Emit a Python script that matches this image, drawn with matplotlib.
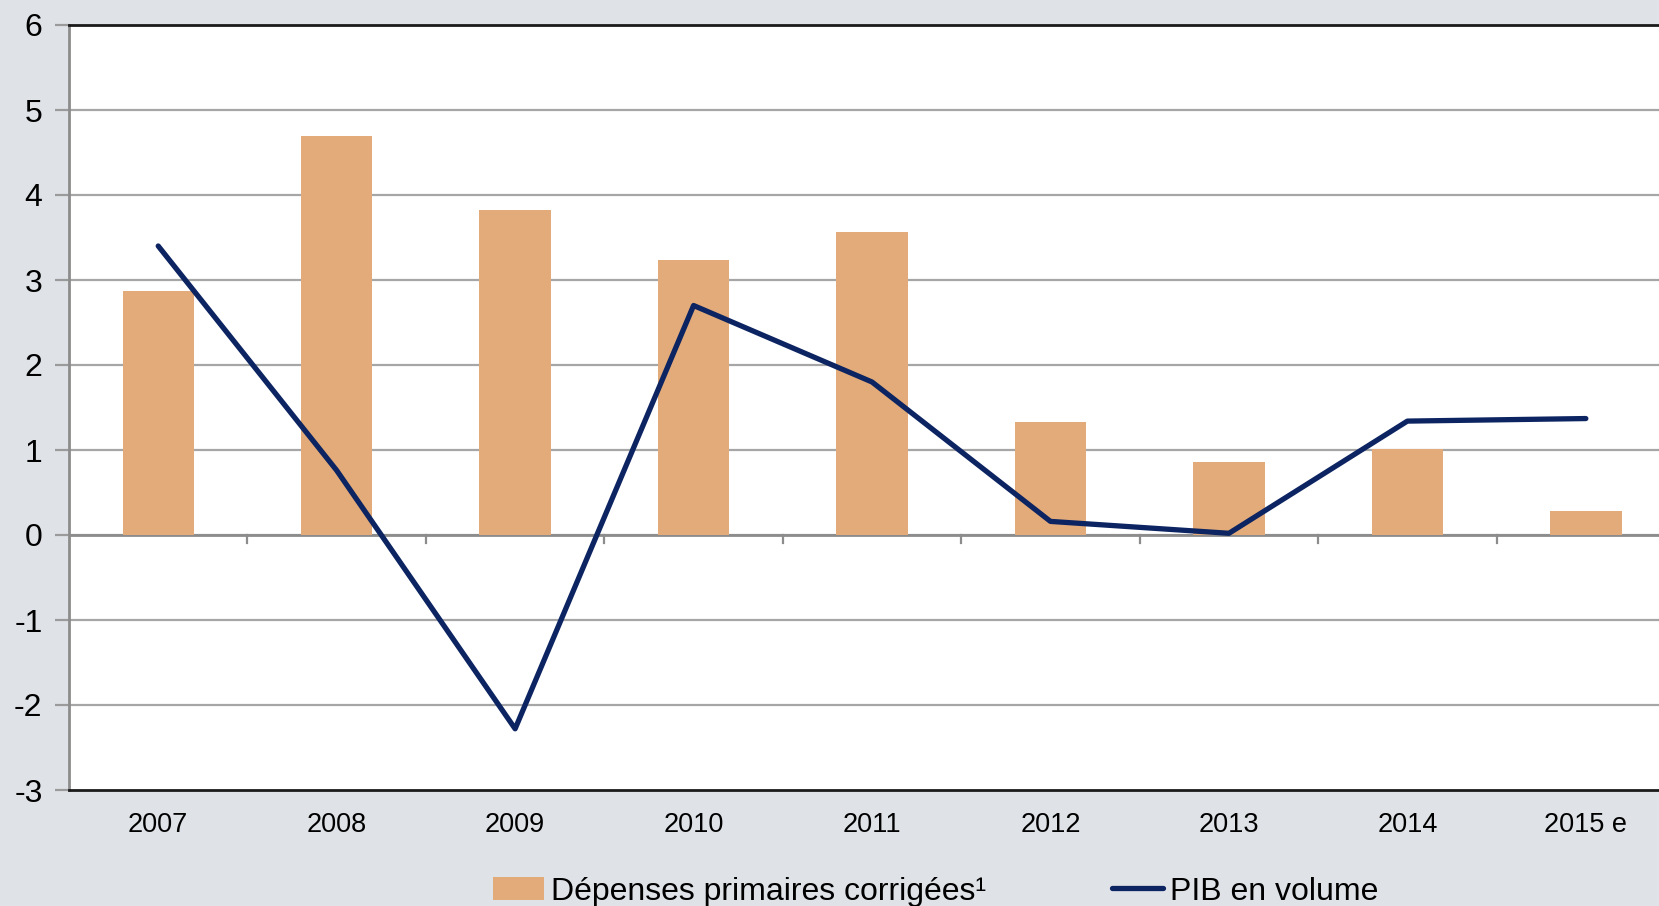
import matplotlib
matplotlib.use("Agg")
import matplotlib.pyplot as plt

years = ["2007", "2008", "2009", "2010", "2011", "2012", "2013", "2014", "2015 e"]
depenses = [2.87, 4.70, 3.82, 3.23, 3.57, 1.33, 0.86, 1.01, 0.28]
pib = [3.40, 0.76, -2.28, 2.70, 1.80, 0.16, 0.02, 1.34, 1.37]
yticks = [-3, -2, -1, 0, 1, 2, 3, 4, 5, 6]

plt.rcParams['font.family'] = ['Liberation Sans', 'DejaVu Sans']

bg = "#dfe3e8"
bar_c = "#e3ab79"
line_c = "#0c2461"
grid_c = "#a6a6a6"

fig = plt.figure(figsize=(16.59, 9.06), dpi=100, facecolor=bg)
ax = fig.add_axes([69/1659, 1-790/906, 1-69/1659, (790-25)/906])
ax.set_facecolor("white")

x = list(range(len(years)))
hb = ax.bar(x, depenses, width=0.4, color=bar_c, zorder=2)
hl, = ax.plot(x, pib, color=line_c, lw=3.8, zorder=3, solid_capstyle='round')

ax.set_ylim(-3, 6)
ax.set_xlim(-0.5, 8.41)
ax.set_yticks(yticks)
ax.set_yticklabels([str(v) for v in yticks], fontsize=23)
for v in yticks:
    if v in (-3, 6):
        continue
    ax.axhline(v, color=grid_c, lw=1.6, zorder=1)
ax.axhline(0, color="#8c8c8c", lw=2, zorder=1)
# category boundary ticks on zero line
for b in [i + 0.5 for i in range(8)]:
    ax.plot([b, b], [0, -0.09], color="#8c8c8c", lw=1.6, zorder=1, clip_on=False)

ax.set_xticks(x)
ax.set_xticklabels(years, fontsize=19.5)
ax.tick_params(axis='x', length=0, pad=16)
ax.tick_params(axis='y', length=10, color="#9a9a9a", width=1.6, pad=9)

for s in ["top", "bottom"]:
    ax.spines[s].set_color("#1a1a1a")
    ax.spines[s].set_linewidth(2)
ax.spines["left"].set_color("#8c8c8c")
ax.spines["left"].set_linewidth(2)
ax.spines["right"].set_visible(False)

leg = fig.legend([hb, hl], ["Dépenses primaires corrigées¹", "PIB en volume"],
                 loc="center", bbox_to_anchor=(0.564, 0.016), ncol=2, frameon=False,
                 prop={'size': 23}, handlelength=1.6, handletextpad=0.2,
                 columnspacing=3.95)

fig.savefig("out.png", dpi=100, facecolor=bg)
